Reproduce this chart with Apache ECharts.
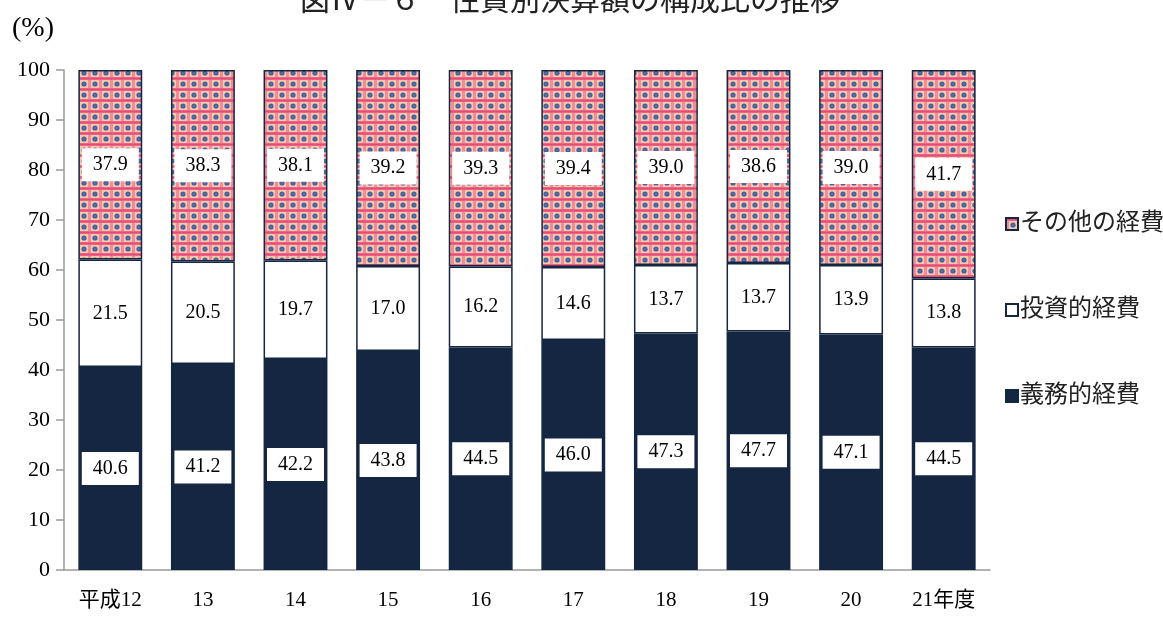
<!DOCTYPE html>
<html><head><meta charset="utf-8">
<script src="https://cdn.jsdelivr.net/npm/echarts@6/dist/echarts.min.js"></script>
<style>html,body{margin:0;padding:0;background:#fff}#c{width:1163px;height:620px}</style>
</head><body><div id="c"></div>
<script>
const categories = ['平成12','13','14','15','16','17','18','19','20','21年度'];
const gimu = [40.6, 41.2, 42.2, 43.8, 44.5, 46.0, 47.3, 47.7, 47.1, 44.5];
const toushi = [21.5, 20.5, 19.7, 17.0, 16.2, 14.6, 13.7, 13.7, 13.9, 13.8];
const sonota = [37.9, 38.3, 38.1, 39.2, 39.3, 39.4, 39.0, 38.6, 39.0, 41.7];
const seriesNames = ['義務的経費','投資的経費','その他の経費'];
const yTicks = [0,10,20,30,40,50,60,70,80,90,100];

const SERIF = '"Liberation Serif","Noto Sans CJK JP",serif';
const NAVY = '#142641';

function makeTile(){
  const c = document.createElement('canvas');
  c.width = 11; c.height = 11;
  const g = c.getContext('2d');
  g.fillStyle = '#f6caa9'; g.fillRect(0,0,11,11);
  g.fillStyle = 'rgba(238,120,150,0.75)'; g.fillRect(0,0,3,11);
  g.fillStyle = '#ec6388'; g.fillRect(0,0,11,3);
  g.fillStyle = '#e84a78'; g.fillRect(0,1,11,1);
  g.fillStyle = '#4560a8';
  g.beginPath(); g.arc(7,7,2.6,0,Math.PI*2); g.fill();
  g.fillStyle = '#9a9440'; g.fillRect(6.5,6.5,1,1);
  return c;
}
const pattern = {image: makeTile(), repeat: 'repeat'};

const lbl = {
  show: true, position: 'inside',
  formatter: p => p.value.toFixed(1),
  backgroundColor: '#fff', color: '#000',
  fontFamily: SERIF, fontSize: 20, lineHeight: 20,
  padding: [7, 11, 6, 11]
};

const chart = echarts.init(document.getElementById('c'));
chart.setOption({
  animation: false,
  backgroundColor: '#fff',
  title: {
    text: '図Ⅳ－６　性質別決算額の構成比の推移',
    left: 295, top: -18,
    textStyle: {fontFamily: SERIF, fontSize: 30, fontWeight: 'normal', color: '#222'}
  },
  graphic: [{type:'text', left: 12, top: 15, style:{text:'(%)', font:'28px "Liberation Serif"', fill:'#000'}}],
  legend: {
    orient: 'vertical', left: 1000, top: 207,
    data: ['その他の経費','投資的経費','義務的経費'],
    itemWidth: 12, itemHeight: 12, itemGap: 62,
    icon: 'rect',
    textStyle: {fontFamily: SERIF, fontSize: 24, color: '#222', padding:[0,0,0,-3]}
  },
  grid: {left: 64, right: 173, top: 70, bottom: 50, containLabel: false},
  xAxis: {
    type: 'category', data: categories,
    axisLine: {lineStyle: {color: '#9a9a9a', width: 1.5}},
    axisTick: {show: false},
    axisLabel: {fontFamily: SERIF, fontSize: 21, color: '#000', margin: 20}
  },
  yAxis: {
    type: 'value', min: 0, max: 100, interval: 10,
    axisLine: {show: true, lineStyle: {color: '#9a9a9a', width: 1.5}},
    axisTick: {show: true, length: 8, lineStyle: {color: '#9a9a9a', width: 1.5}},
    splitLine: {show: false},
    axisLabel: {fontFamily: SERIF, fontSize: 22, color: '#000', margin: 14,
      formatter: v => yTicks.includes(v) ? String(v) : ''}
  },
  series: [
    {name: seriesNames[0], type: 'bar', stack: 'a', data: gimu, barWidth: '69%',
     itemStyle: {color: NAVY, borderColor: NAVY, borderWidth: 1.5}, label: lbl},
    {name: seriesNames[1], type: 'bar', stack: 'a', data: toushi,
     itemStyle: {color: '#fff', borderColor: NAVY, borderWidth: 1.5}, label: lbl},
    {name: seriesNames[2], type: 'bar', stack: 'a', data: sonota,
     itemStyle: {color: pattern, borderColor: NAVY, borderWidth: 1.5}, label: lbl}
  ]
});
</script></body></html>
